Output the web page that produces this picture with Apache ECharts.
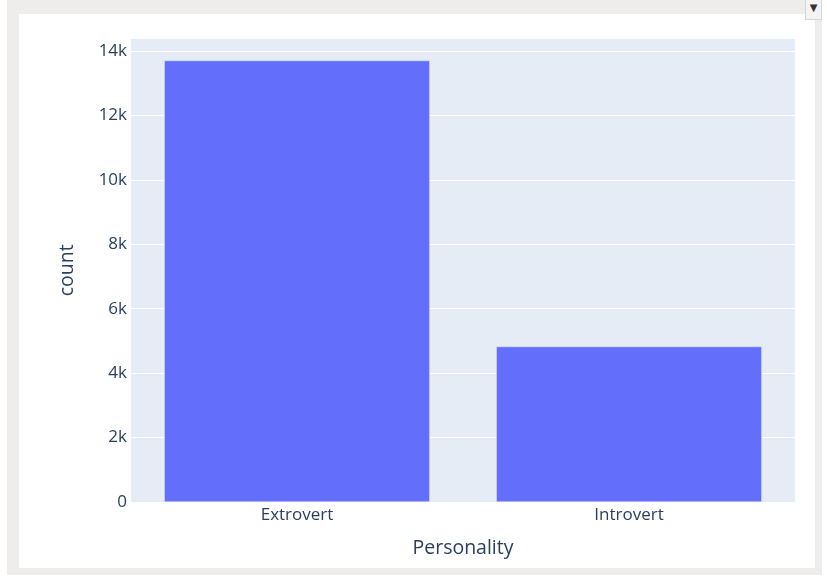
<!DOCTYPE html>
<html>
<head>
<meta charset="utf-8">
<script src="https://cdn.jsdelivr.net/npm/echarts@6/dist/echarts.min.js"></script>
<style>
  html, body { margin: 0; padding: 0; background: #ffffff; width: 827px; height: 580px; overflow: hidden; }
  #frame { position: absolute; left: 7px; top: 0px; width: 815px; height: 575px; background: #eeedeb; }
  #panel { position: absolute; left: 19px; top: 14px; width: 796px; height: 554px; background: #ffffff; }
  #chart { position: absolute; left: 0; top: 0; width: 827px; height: 580px; }
  #btn { position: absolute; left: 805px; top: 0px; width: 15px; height: 19px; background: #f4f4f4;
         border: 1px solid #d6d6d6; border-top: none; font: 10px "DejaVu Sans", sans-serif; color: #333;
         text-align: center; line-height: 15px; }
</style>
</head>
<body>
<div id="frame"></div>
<div id="panel"></div>
<div id="chart"></div>
<div id="btn">▼</div>
<script>
const categories = ["Extrovert", "Introvert"];
const counts = [13699, 4825];
const yTicks = [0, 2000, 4000, 6000, 8000, 10000, 12000, 14000];
const xTitle = "Personality";
const yTitle = "count";

const chart = echarts.init(document.getElementById('chart'), null, { renderer: 'canvas' });
const font = '"Open Sans", "Noto Sans", sans-serif';
chart.setOption({
  backgroundColor: 'transparent',
  animation: false,
  grid: {
    left: 131, right: 32, top: 38.5, bottom: 78,
    show: true, backgroundColor: '#E5ECF6', borderWidth: 0
  },
  xAxis: {
    type: 'category',
    data: categories,
    name: xTitle,
    nameLocation: 'middle',
    nameGap: 36,
    nameTextStyle: { color: '#2a3f5f', fontSize: 19.5, fontFamily: font },
    axisLine: { show: false },
    axisTick: { show: false },
    axisLabel: { color: '#2a3f5f', fontSize: 17, fontFamily: font, margin: 5 },
    splitLine: { show: false }
  },
  yAxis: {
    type: 'value',
    min: 0,
    max: Math.max(...counts) * 1.05,
    interval: 2000,
    name: yTitle,
    nameLocation: 'middle',
    nameGap: 54,
    nameTextStyle: { color: '#2a3f5f', fontSize: 19.5, fontFamily: font },
    axisLine: { show: false },
    axisTick: { show: false },
    axisLabel: {
      color: '#2a3f5f', fontSize: 17, fontFamily: font, margin: 4,
      showMaxLabel: false,
      formatter: function (v) {
        if (yTicks.indexOf(v) < 0) return '';
        return v === 0 ? '0' : (v / 1000) + 'k';
      }
    },
    splitLine: { show: true, lineStyle: { color: '#ffffff', width: 1 } }
  },
  series: [{
    type: 'bar',
    data: counts,
    barCategoryGap: '20%',
    itemStyle: { color: '#636efa', borderColor: '#E5ECF6', borderWidth: 0.5 }
  }]
});
</script>
</body>
</html>
